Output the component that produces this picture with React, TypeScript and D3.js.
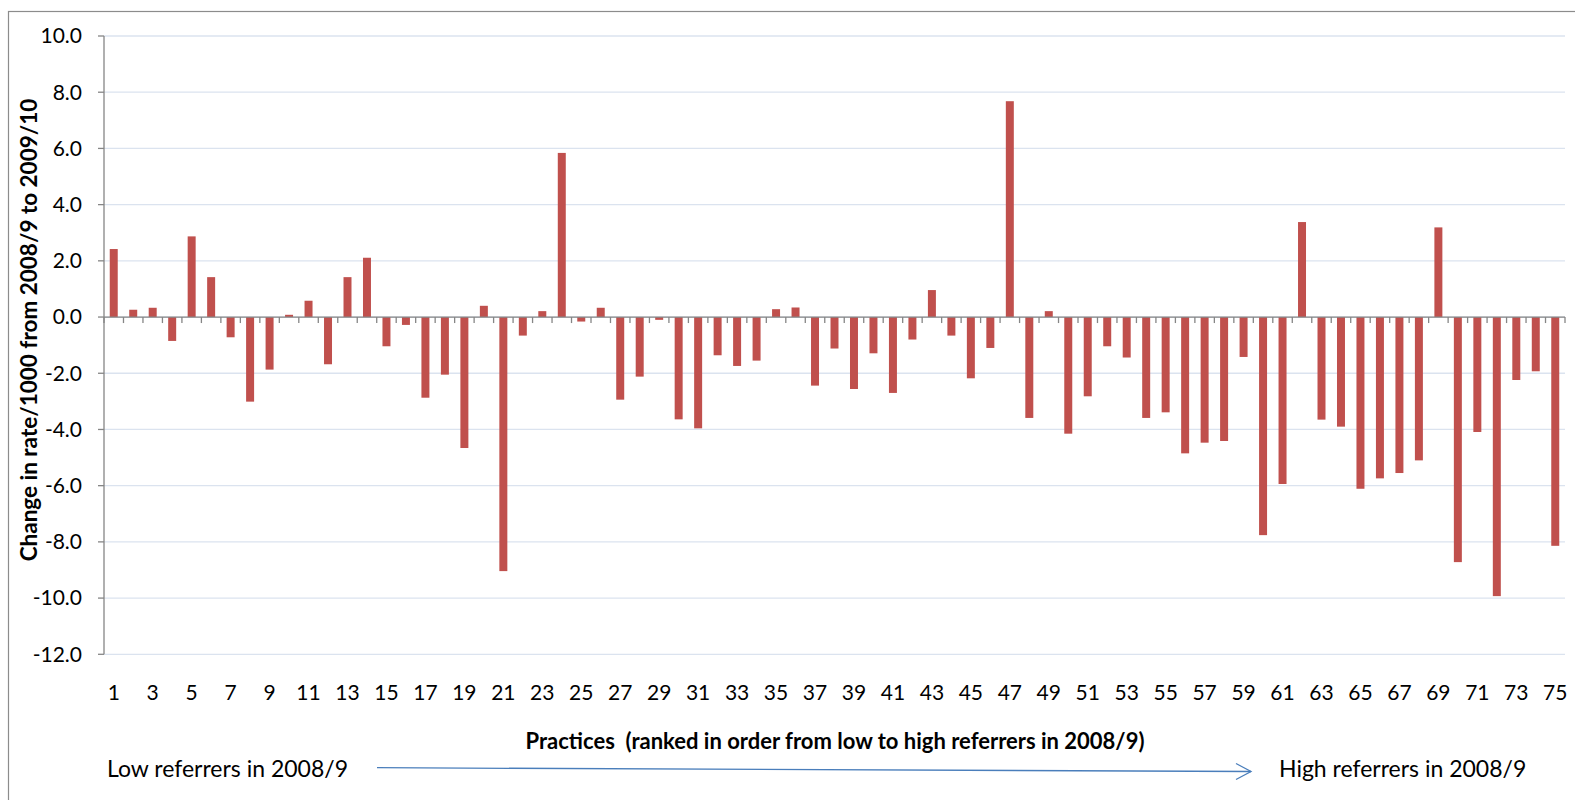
import React from "react";
import * as d3 from "d3";

const practices: number[] = Array.from({ length: 75 }, (_, i) => i + 1);
const changeValues: number[] = [
  2.42, 0.26, 0.33, -0.85, 2.87, 1.42, -0.72, -3.01, -1.87, 0.08,
  0.58, -1.68, 1.42, 2.11, -1.04, -0.28, -2.87, -2.05, -4.66, 0.4,
  -9.04, -0.66, 0.21, 5.84, -0.16, 0.33, -2.94, -2.12, -0.1, -3.64,
  -3.96, -1.36, -1.74, -1.55, 0.28, 0.34, -2.44, -1.12, -2.56, -1.29,
  -2.7, -0.8, 0.96, -0.66, -2.18, -1.1, 7.68, -3.59, 0.21, -4.15,
  -2.82, -1.04, -1.44, -3.59, -3.39, -4.85, -4.47, -4.41, -1.42, -7.76,
  -5.94, 3.38, -3.65, -3.9, -6.11, -5.74, -5.55, -5.1, 3.19, -8.72,
  -4.09, -9.93, -2.24, -1.93, -8.14,
];
const yTicks: number[] = [10, 8, 6, 4, 2, 0, -2, -4, -6, -8, -10, -12];
const xLabelEvery = 2;

const yTitle = "Change in rate/1000 from 2008/9 to 2009/10";
const xTitle = "Practices  (ranked in order from low to high referrers in 2008/9)";
const lowLabel = "Low referrers in 2008/9";
const highLabel = "High referrers in 2008/9";

export default function App() {
  const W = 1575;
  const H = 800;
  const left = 104;
  const right = 1565;
  const top = 36;
  const bottom = 654.3;
  const font = "Lato, 'Open Sans', sans-serif";

  const x = d3
    .scaleBand<number>()
    .domain(practices)
    .range([left, right])
    .paddingInner(0.59)
    .paddingOuter(0.295);
  const xb = d3.scaleLinear().domain([0, practices.length]).range([left, right]);
  const y = d3.scaleLinear().domain([-12, 10]).range([bottom, top]);
  const y0 = y(0);

  return (
    <svg
      width={W}
      height={H}
      style={{ position: "absolute", left: 0, top: 0, background: "#fff" }}
    >
      <rect x={8.5} y={11.5} width={W + 20} height={H + 20} fill="#fff" stroke="#8c8c8c" strokeWidth={1.2} />
      {yTicks.map((t) => (
        <line key={"g" + t} x1={left} x2={right} y1={y(t)} y2={y(t)} stroke="#dbe3ef" strokeWidth={1.3} />
      ))}
      {changeValues.map((v, i) => {
        const p = practices[i];
        const y1 = Math.min(y(v), y0);
        const h = Math.abs(y(v) - y0);
        return <rect key={"b" + p} x={x(p)} y={y1} width={x.bandwidth()} height={h} fill="#c0504d" />;
      })}
      {/* y axis */}
      <line x1={left} x2={left} y1={top} y2={bottom} stroke="#868686" strokeWidth={1.3} />
      {yTicks.map((t) => (
        <g key={"yt" + t}>
          <line x1={left - 6} x2={left} y1={y(t)} y2={y(t)} stroke="#868686" strokeWidth={1.3} />
          <text x={82} y={y(t)} dy="0.35em" textAnchor="end" fontFamily={font} fontSize={21} fill="#000">
            {t.toFixed(1)}
          </text>
        </g>
      ))}
      {/* x axis at zero */}
      <line x1={left} x2={right} y1={y0} y2={y0} stroke="#868686" strokeWidth={1.3} />
      {d3.range(practices.length + 1).map((i) => (
        <line key={"xt" + i} x1={xb(i)} x2={xb(i)} y1={y0} y2={y0 + 6} stroke="#868686" strokeWidth={1.3} />
      ))}
      {practices
        .filter((p, i) => i % xLabelEvery === 0)
        .map((p) => (
          <text
            key={"xl" + p}
            x={(x(p) as number) + x.bandwidth() / 2}
            y={693}
            dy="0.35em"
            textAnchor="middle"
            fontFamily={font}
            fontSize={21}
            fill="#000"
          >
            {p}
          </text>
        ))}
      <text
        transform={`translate(29, ${330}) rotate(-90)`}
        textAnchor="middle"
        dy="0.35em"
        fontFamily={font}
        fontWeight="bold"
        fontSize={22.5}
        fill="#000"
      >
        {yTitle}
      </text>
      <text x={835} y={741} dy="0.35em" textAnchor="middle" fontFamily={font} fontWeight="bold" fontSize={22} fill="#000" style={{ whiteSpace: "pre" }}>
        {xTitle}
      </text>
      <text x={107} y={769} dy="0.35em" fontFamily={font} fontSize={23} fill="#000">
        {lowLabel}
      </text>
      <text x={1279} y={769} dy="0.35em" fontFamily={font} fontSize={23} fill="#000">
        {highLabel}
      </text>
      <line x1={377} y1={767.7} x2={1251} y2={771.5} stroke="#4a7ebb" strokeWidth={1.3} />
      <polyline points="1236,763.5 1251,771.5 1236,779.5" fill="none" stroke="#4a7ebb" strokeWidth={1.3} />
    </svg>
  );
}
